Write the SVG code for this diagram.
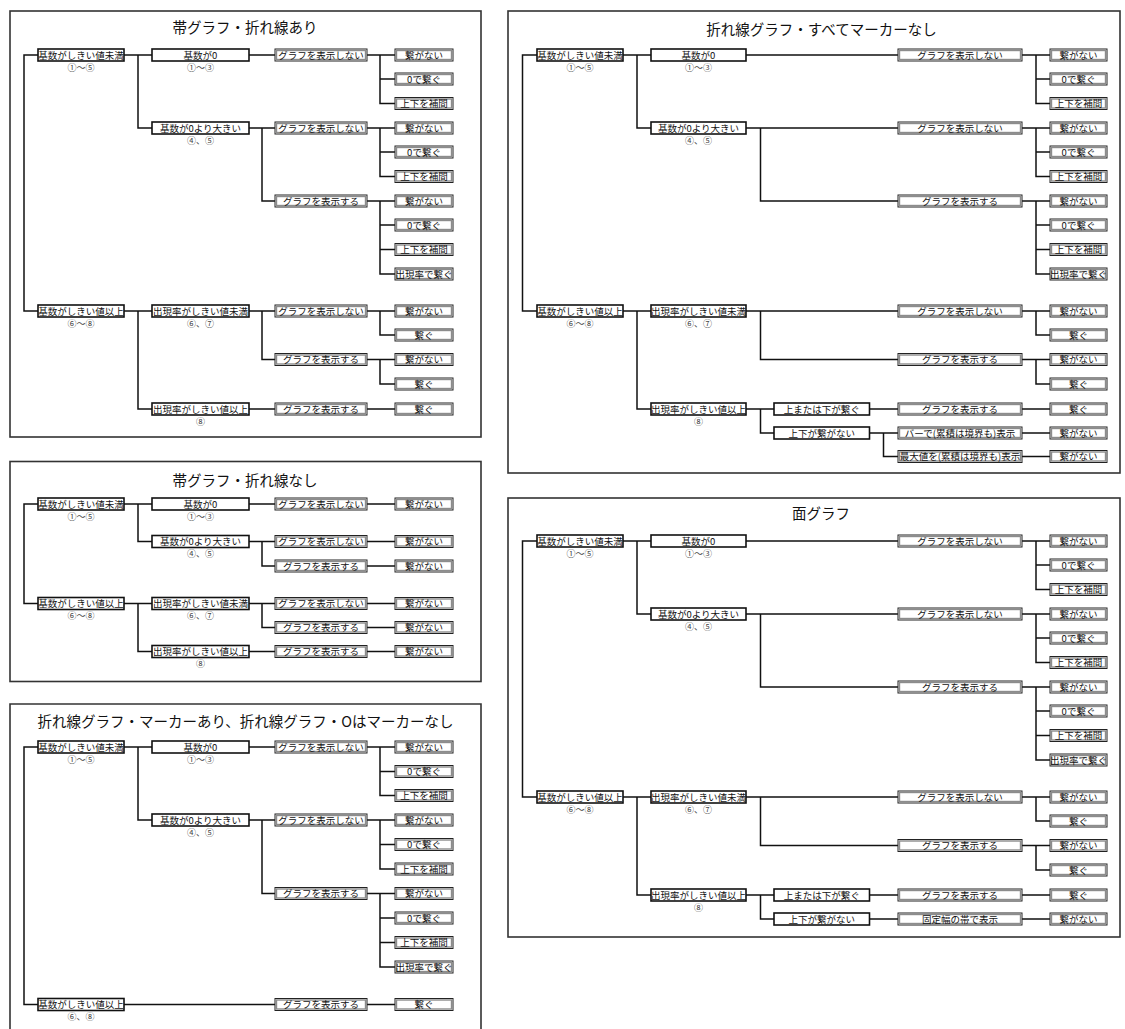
<svg xmlns="http://www.w3.org/2000/svg" xmlns:xlink="http://www.w3.org/1999/xlink" width="1125" height="1029" viewBox="0 0 1125 1029">
<style>
.t{font-family:"Noto Sans CJK JP","Noto Sans CJK SC",sans-serif;font-size:9.5px;fill:#111;text-anchor:middle}
.s{font-size:9px;fill:#444}
.h{font-size:14.5px;fill:#111}
.c{fill:none;stroke:#111;stroke-width:1.5}
.f{fill:none;stroke:#333;stroke-width:1.6}
.w{fill:#fff;stroke:#111;stroke-width:1.6}
.o{fill:#fff;stroke:#222;stroke-width:1}
.i{fill:none;stroke:#8c8c8c;stroke-width:1.4}
</style>
<defs>
<rect id="b1" width="86" height="12" class="w"/>
<rect id="b2" width="97" height="12" class="w"/>
<rect id="b2r" width="95" height="12" class="w"/>
<rect id="bm" width="95.5" height="12" class="w"/>
<g id="b3"><rect width="92" height="12" class="o"/><rect x="1.5" y="1.5" width="89" height="9" class="i"/></g>
<g id="b3w"><rect width="124" height="12" class="o"/><rect x="1.5" y="1.5" width="121" height="9" class="i"/></g>
<g id="b4"><rect width="58" height="12" class="o"/><rect x="1.5" y="1.5" width="55" height="9" class="i"/></g>
<g id="b4r"><rect width="57" height="12" class="o"/><rect x="1.5" y="1.5" width="54" height="9" class="i"/></g>
</defs>
<rect width="1125" height="1029" fill="#fff"/>

<g id="frames">
<rect class="f" x="10" y="11" width="471" height="426"/>
<rect class="f" x="10" y="461.5" width="471" height="220"/>
<path class="f" d="M10 1035 V704 H481 V1035"/>
<rect class="f" x="508" y="11" width="612" height="462"/>
<rect class="f" x="508" y="498" width="612" height="439"/>
</g>
<g id="titles">
<text class="t h" x="245" y="32.5">帯グラフ・折れ線あり</text>
<text class="t h" x="245" y="485.5">帯グラフ・折れ線なし</text>
<text class="t h" x="245.5" y="726.5">折れ線グラフ・マーカーあり、折れ線グラフ・Oはマーカーなし</text>
<text class="t h" x="821.5" y="35">折れ線グラフ・すべてマーカーなし</text>
<text class="t h" x="821" y="519">面グラフ</text>
</g>

<g id="connectors" class="c">
<path d="M38 55 H24 V311 H38 M124 55 H152 M138 55 V128 H152 M249 55 H275 M367 55 H395 M380 55 V103.5 H395 M380 79 H395 M249 128 H275 M262 128 V201 H275 M367 128 H395 M380 128 V176.5 H395 M380 152 H395 M367 201 H395 M380 201 V274 H395 M380 225 H395 M380 249.5 H395 M124 311 H152 M138 311 V409 H152 M249 311 H275 M262 311 V359.5 H275 M367 311 H395 M380 311 V335 H395 M367 359.5 H395 M380 359.5 V384 H395 M249 409 H275 M367 409 H395"/>
<path d="M38 504 H24 V603.5 H38 M124 504 H152 M138 504 V541.5 H152 M249 504 H275 M367 504 H395 M249 541.5 H275 M262 541.5 V566 H275 M367 541.5 H395 M367 566 H395 M124 603.5 H152 M138 603.5 V651.5 H152 M249 603.5 H275 M262 603.5 V627.5 H275 M367 603.5 H395 M367 627.5 H395 M249 651.5 H275 M367 651.5 H395"/>
<path d="M38 747 H24 V1004.5 H38 M124 747 H152 M138 747 V820 H152 M249 747 H275 M367 747 H395 M380 747 V795.5 H395 M380 771.5 H395 M249 820 H275 M262 820 V893.5 H275 M367 820 H395 M380 820 V869 H395 M380 844.5 H395 M367 893.5 H395 M380 893.5 V967 H395 M380 918 H395 M380 942.5 H395 M124 1004.5 H275 M367 1004.5 H395"/>
<path d="M537 55 H522.5 V311 H537 M623 55 H651 M637 55 V128 H651 M746 55 H898 M1022 55 H1050 M1036 55 V103.5 H1050 M1036 79 H1050 M746 128 H898 M760.5 128 V201 H898 M1022 128 H1050 M1036 128 V176.5 H1050 M1036 152 H1050 M1022 201 H1050 M1036 201 V274 H1050 M1036 225 H1050 M1036 249.5 H1050 M623 311 H651 M637 311 V409 H651 M746 311 H898 M760.5 311 V359.5 H898 M1022 311 H1050 M1036 311 V335 H1050 M1022 359.5 H1050 M1036 359.5 V384 H1050 M746 409 H774 M760.5 409 V433 H774 M869.5 409 H898 M1022 409 H1050 M869.5 433 H898 M883.5 433 V456.5 H898 M1022 433 H1050 M1022 456.5 H1050"/>
<path d="M537 541 H522.5 V797 H537 M623 541 H651 M637 541 V614 H651 M746 541 H898 M1022 541 H1050 M1036 541 V589.5 H1050 M1036 565 H1050 M746 614 H898 M760.5 614 V687 H898 M1022 614 H1050 M1036 614 V662.5 H1050 M1036 638 H1050 M1022 687 H1050 M1036 687 V760 H1050 M1036 711 H1050 M1036 735.5 H1050 M623 797 H651 M637 797 V895 H651 M746 797 H898 M760.5 797 V845.5 H898 M1022 797 H1050 M1036 797 V821 H1050 M1022 845.5 H1050 M1036 845.5 V870 H1050 M746 895 H774 M760.5 895 V919 H774 M869.5 895 H898 M1022 895 H1050 M869.5 919 H898 M1022 919 H1050"/>
</g>

<!-- Panel 1 -->
<g id="p1-l1a"><use href="#b1" x="38" y="49"/><text class="t" x="81" y="58.5">基数がしきい値未満</text><text class="t s" x="81" y="70.5">①～⑤</text></g>
<g id="p1-l1b"><use href="#b1" x="38" y="305"/><text class="t" x="81" y="314.5">基数がしきい値以上</text><text class="t s" x="81" y="326.5">⑥～⑧</text></g>
<g id="p1-l2a"><use href="#b2" x="152" y="49"/><text class="t" x="200.5" y="58.5">基数が0</text><text class="t s" x="200.5" y="70.5">①～③</text></g>
<g id="p1-l2b"><use href="#b2" x="152" y="122"/><text class="t" x="200.5" y="131.5">基数が0より大きい</text><text class="t s" x="200.5" y="143.5">④、⑤</text></g>
<g id="p1-l2c"><use href="#b2" x="152" y="305"/><text class="t" x="200.5" y="314.5">出現率がしきい値未満</text><text class="t s" x="200.5" y="326.5">⑥、⑦</text></g>
<g id="p1-l2d"><use href="#b2" x="152" y="403"/><text class="t" x="200.5" y="412.5">出現率がしきい値以上</text><text class="t s" x="200.5" y="424.5">⑧</text></g>
<g id="p1-l3a"><use href="#b3" x="275" y="49"/><text class="t" x="321" y="58.5">グラフを表示しない</text></g>
<g id="p1-l3b"><use href="#b3" x="275" y="122"/><text class="t" x="321" y="131.5">グラフを表示しない</text></g>
<g id="p1-l3c"><use href="#b3" x="275" y="195"/><text class="t" x="321" y="204.5">グラフを表示する</text></g>
<g id="p1-l3d"><use href="#b3" x="275" y="305"/><text class="t" x="321" y="314.5">グラフを表示しない</text></g>
<g id="p1-l3e"><use href="#b3" x="275" y="353.5"/><text class="t" x="321" y="363">グラフを表示する</text></g>
<g id="p1-l3f"><use href="#b3" x="275" y="403"/><text class="t" x="321" y="412.5">グラフを表示する</text></g>
<g id="p1-l4a"><use href="#b4" x="395" y="49"/><text class="t" x="424" y="58.5">繋がない</text></g>
<g id="p1-l4b"><use href="#b4" x="395" y="73"/><text class="t" x="424" y="82.5">0で繋ぐ</text></g>
<g id="p1-l4c"><use href="#b4" x="395" y="97.5"/><text class="t" x="424" y="107">上下を補間</text></g>
<g id="p1-l4d"><use href="#b4" x="395" y="122"/><text class="t" x="424" y="131.5">繋がない</text></g>
<g id="p1-l4e"><use href="#b4" x="395" y="146"/><text class="t" x="424" y="155.5">0で繋ぐ</text></g>
<g id="p1-l4f"><use href="#b4" x="395" y="170.5"/><text class="t" x="424" y="180">上下を補間</text></g>
<g id="p1-l4g"><use href="#b4" x="395" y="195"/><text class="t" x="424" y="204.5">繋がない</text></g>
<g id="p1-l4h"><use href="#b4" x="395" y="219"/><text class="t" x="424" y="228.5">0で繋ぐ</text></g>
<g id="p1-l4i"><use href="#b4" x="395" y="243.5"/><text class="t" x="424" y="253">上下を補間</text></g>
<g id="p1-l4j"><use href="#b4" x="395" y="268"/><text class="t" x="424" y="277.5">出現率で繋ぐ</text></g>
<g id="p1-l4k"><use href="#b4" x="395" y="305"/><text class="t" x="424" y="314.5">繋がない</text></g>
<g id="p1-l4l"><use href="#b4" x="395" y="329"/><text class="t" x="424" y="338.5">繋ぐ</text></g>
<g id="p1-l4m"><use href="#b4" x="395" y="353.5"/><text class="t" x="424" y="363">繋がない</text></g>
<g id="p1-l4n"><use href="#b4" x="395" y="378"/><text class="t" x="424" y="387.5">繋ぐ</text></g>
<g id="p1-l4o"><use href="#b4" x="395" y="403"/><text class="t" x="424" y="412.5">繋ぐ</text></g>

<!-- Panel 2 -->
<g id="p2-l1a"><use href="#b1" x="38" y="498"/><text class="t" x="81" y="507.5">基数がしきい値未満</text><text class="t s" x="81" y="519.5">①～⑤</text></g>
<g id="p2-l1b"><use href="#b1" x="38" y="597.5"/><text class="t" x="81" y="607">基数がしきい値以上</text><text class="t s" x="81" y="619">⑥～⑧</text></g>
<g id="p2-l2a"><use href="#b2" x="152" y="498"/><text class="t" x="200.5" y="507.5">基数が0</text><text class="t s" x="200.5" y="519.5">①～③</text></g>
<g id="p2-l2b"><use href="#b2" x="152" y="535.5"/><text class="t" x="200.5" y="545">基数が0より大きい</text><text class="t s" x="200.5" y="557">④、⑤</text></g>
<g id="p2-l2c"><use href="#b2" x="152" y="597.5"/><text class="t" x="200.5" y="607">出現率がしきい値未満</text><text class="t s" x="200.5" y="619">⑥、⑦</text></g>
<g id="p2-l2d"><use href="#b2" x="152" y="645.5"/><text class="t" x="200.5" y="655">出現率がしきい値以上</text><text class="t s" x="200.5" y="667">⑧</text></g>
<g id="p2-l3a"><use href="#b3" x="275" y="498"/><text class="t" x="321" y="507.5">グラフを表示しない</text></g>
<g id="p2-l3b"><use href="#b3" x="275" y="535.5"/><text class="t" x="321" y="545">グラフを表示しない</text></g>
<g id="p2-l3c"><use href="#b3" x="275" y="560"/><text class="t" x="321" y="569.5">グラフを表示する</text></g>
<g id="p2-l3d"><use href="#b3" x="275" y="597.5"/><text class="t" x="321" y="607">グラフを表示しない</text></g>
<g id="p2-l3e"><use href="#b3" x="275" y="621.5"/><text class="t" x="321" y="631">グラフを表示する</text></g>
<g id="p2-l3f"><use href="#b3" x="275" y="645.5"/><text class="t" x="321" y="655">グラフを表示する</text></g>
<g id="p2-l4a"><use href="#b4" x="395" y="498"/><text class="t" x="424" y="507.5">繋がない</text></g>
<g id="p2-l4b"><use href="#b4" x="395" y="535.5"/><text class="t" x="424" y="545">繋がない</text></g>
<g id="p2-l4c"><use href="#b4" x="395" y="560"/><text class="t" x="424" y="569.5">繋がない</text></g>
<g id="p2-l4d"><use href="#b4" x="395" y="597.5"/><text class="t" x="424" y="607">繋がない</text></g>
<g id="p2-l4e"><use href="#b4" x="395" y="621.5"/><text class="t" x="424" y="631">繋がない</text></g>
<g id="p2-l4f"><use href="#b4" x="395" y="645.5"/><text class="t" x="424" y="655">繋がない</text></g>

<!-- Panel 3 -->
<g id="p3-l1a"><use href="#b1" x="38" y="741"/><text class="t" x="81" y="750.5">基数がしきい値未満</text><text class="t s" x="81" y="762.5">①～⑤</text></g>
<g id="p3-l1b"><use href="#b1" x="38" y="998.5"/><text class="t" x="81" y="1008">基数がしきい値以上</text><text class="t s" x="81" y="1020">⑥、⑧</text></g>
<g id="p3-l2a"><use href="#b2" x="152" y="741"/><text class="t" x="200.5" y="750.5">基数が0</text><text class="t s" x="200.5" y="762.5">①～③</text></g>
<g id="p3-l2b"><use href="#b2" x="152" y="814"/><text class="t" x="200.5" y="823.5">基数が0より大きい</text><text class="t s" x="200.5" y="835.5">④、⑤</text></g>
<g id="p3-l3a"><use href="#b3" x="275" y="741"/><text class="t" x="321" y="750.5">グラフを表示しない</text></g>
<g id="p3-l3b"><use href="#b3" x="275" y="814"/><text class="t" x="321" y="823.5">グラフを表示しない</text></g>
<g id="p3-l3c"><use href="#b3" x="275" y="887.5"/><text class="t" x="321" y="897">グラフを表示する</text></g>
<g id="p3-l3d"><use href="#b3" x="275" y="998.5"/><text class="t" x="321" y="1008">グラフを表示する</text></g>
<g id="p3-l4a"><use href="#b4" x="395" y="741"/><text class="t" x="424" y="750.5">繋がない</text></g>
<g id="p3-l4b"><use href="#b4" x="395" y="765.5"/><text class="t" x="424" y="775">0で繋ぐ</text></g>
<g id="p3-l4c"><use href="#b4" x="395" y="789.5"/><text class="t" x="424" y="799">上下を補間</text></g>
<g id="p3-l4d"><use href="#b4" x="395" y="814"/><text class="t" x="424" y="823.5">繋がない</text></g>
<g id="p3-l4e"><use href="#b4" x="395" y="838.5"/><text class="t" x="424" y="848">0で繋ぐ</text></g>
<g id="p3-l4f"><use href="#b4" x="395" y="863"/><text class="t" x="424" y="872.5">上下を補間</text></g>
<g id="p3-l4g"><use href="#b4" x="395" y="887.5"/><text class="t" x="424" y="897">繋がない</text></g>
<g id="p3-l4h"><use href="#b4" x="395" y="912"/><text class="t" x="424" y="921.5">0で繋ぐ</text></g>
<g id="p3-l4i"><use href="#b4" x="395" y="936.5"/><text class="t" x="424" y="946">上下を補間</text></g>
<g id="p3-l4j"><use href="#b4" x="395" y="961"/><text class="t" x="424" y="970.5">出現率で繋ぐ</text></g>
<g id="p3-l4k"><use href="#b4" x="395" y="998.5"/><text class="t" x="424" y="1008">繋ぐ</text></g>

<!-- Panel 4 -->
<g id="p4-l1a"><use href="#b1" x="537" y="49"/><text class="t" x="580" y="58.5">基数がしきい値未満</text><text class="t s" x="580" y="70.5">①～⑤</text></g>
<g id="p4-l1b"><use href="#b1" x="537" y="305"/><text class="t" x="580" y="314.5">基数がしきい値以上</text><text class="t s" x="580" y="326.5">⑥～⑧</text></g>
<g id="p4-l2a"><use href="#b2r" x="651" y="49"/><text class="t" x="698.5" y="58.5">基数が0</text><text class="t s" x="698.5" y="70.5">①～③</text></g>
<g id="p4-l2b"><use href="#b2r" x="651" y="122"/><text class="t" x="698.5" y="131.5">基数が0より大きい</text><text class="t s" x="698.5" y="143.5">④、⑤</text></g>
<g id="p4-l2c"><use href="#b2r" x="651" y="305"/><text class="t" x="698.5" y="314.5">出現率がしきい値未満</text><text class="t s" x="698.5" y="326.5">⑥、⑦</text></g>
<g id="p4-l2d"><use href="#b2r" x="651" y="403"/><text class="t" x="698.5" y="412.5">出現率がしきい値以上</text><text class="t s" x="698.5" y="424.5">⑧</text></g>
<g id="p4-ma"><use href="#bm" x="774" y="403"/><text class="t" x="821.75" y="412.5">上または下が繋ぐ</text></g>
<g id="p4-mb"><use href="#bm" x="774" y="427"/><text class="t" x="821.75" y="436.5">上下が繋がない</text></g>
<g id="p4-l3a"><use href="#b3w" x="898" y="49"/><text class="t" x="960" y="58.5">グラフを表示しない</text></g>
<g id="p4-l3b"><use href="#b3w" x="898" y="122"/><text class="t" x="960" y="131.5">グラフを表示しない</text></g>
<g id="p4-l3c"><use href="#b3w" x="898" y="195"/><text class="t" x="960" y="204.5">グラフを表示する</text></g>
<g id="p4-l3d"><use href="#b3w" x="898" y="305"/><text class="t" x="960" y="314.5">グラフを表示しない</text></g>
<g id="p4-l3e"><use href="#b3w" x="898" y="353.5"/><text class="t" x="960" y="363">グラフを表示する</text></g>
<g id="p4-l3f"><use href="#b3w" x="898" y="403"/><text class="t" x="960" y="412.5">グラフを表示する</text></g>
<g id="p4-l3g"><use href="#b3w" x="898" y="427"/><text class="t" x="960" y="436.5">バーで(累積は境界も)表示</text></g>
<g id="p4-l3h"><use href="#b3w" x="898" y="450.5"/><text class="t" x="960" y="460">最大値を(累積は境界も)表示</text></g>
<g id="p4-l4a"><use href="#b4r" x="1050" y="49"/><text class="t" x="1078.5" y="58.5">繋がない</text></g>
<g id="p4-l4b"><use href="#b4r" x="1050" y="73"/><text class="t" x="1078.5" y="82.5">0で繋ぐ</text></g>
<g id="p4-l4c"><use href="#b4r" x="1050" y="97.5"/><text class="t" x="1078.5" y="107">上下を補間</text></g>
<g id="p4-l4d"><use href="#b4r" x="1050" y="122"/><text class="t" x="1078.5" y="131.5">繋がない</text></g>
<g id="p4-l4e"><use href="#b4r" x="1050" y="146"/><text class="t" x="1078.5" y="155.5">0で繋ぐ</text></g>
<g id="p4-l4f"><use href="#b4r" x="1050" y="170.5"/><text class="t" x="1078.5" y="180">上下を補間</text></g>
<g id="p4-l4g"><use href="#b4r" x="1050" y="195"/><text class="t" x="1078.5" y="204.5">繋がない</text></g>
<g id="p4-l4h"><use href="#b4r" x="1050" y="219"/><text class="t" x="1078.5" y="228.5">0で繋ぐ</text></g>
<g id="p4-l4i"><use href="#b4r" x="1050" y="243.5"/><text class="t" x="1078.5" y="253">上下を補間</text></g>
<g id="p4-l4j"><use href="#b4r" x="1050" y="268"/><text class="t" x="1078.5" y="277.5">出現率で繋ぐ</text></g>
<g id="p4-l4k"><use href="#b4r" x="1050" y="305"/><text class="t" x="1078.5" y="314.5">繋がない</text></g>
<g id="p4-l4l"><use href="#b4r" x="1050" y="329"/><text class="t" x="1078.5" y="338.5">繋ぐ</text></g>
<g id="p4-l4m"><use href="#b4r" x="1050" y="353.5"/><text class="t" x="1078.5" y="363">繋がない</text></g>
<g id="p4-l4n"><use href="#b4r" x="1050" y="378"/><text class="t" x="1078.5" y="387.5">繋ぐ</text></g>
<g id="p4-l4o"><use href="#b4r" x="1050" y="403"/><text class="t" x="1078.5" y="412.5">繋ぐ</text></g>
<g id="p4-l4p"><use href="#b4r" x="1050" y="427"/><text class="t" x="1078.5" y="436.5">繋がない</text></g>
<g id="p4-l4q"><use href="#b4r" x="1050" y="450.5"/><text class="t" x="1078.5" y="460">繋がない</text></g>

<!-- Panel 5 -->
<g id="p5-l1a"><use href="#b1" x="537" y="535"/><text class="t" x="580" y="544.5">基数がしきい値未満</text><text class="t s" x="580" y="556.5">①～⑤</text></g>
<g id="p5-l1b"><use href="#b1" x="537" y="791"/><text class="t" x="580" y="800.5">基数がしきい値以上</text><text class="t s" x="580" y="812.5">⑥～⑧</text></g>
<g id="p5-l2a"><use href="#b2r" x="651" y="535"/><text class="t" x="698.5" y="544.5">基数が0</text><text class="t s" x="698.5" y="556.5">①～③</text></g>
<g id="p5-l2b"><use href="#b2r" x="651" y="608"/><text class="t" x="698.5" y="617.5">基数が0より大きい</text><text class="t s" x="698.5" y="629.5">④、⑤</text></g>
<g id="p5-l2c"><use href="#b2r" x="651" y="791"/><text class="t" x="698.5" y="800.5">出現率がしきい値未満</text><text class="t s" x="698.5" y="812.5">⑥、⑦</text></g>
<g id="p5-l2d"><use href="#b2r" x="651" y="889"/><text class="t" x="698.5" y="898.5">出現率がしきい値以上</text><text class="t s" x="698.5" y="910.5">⑧</text></g>
<g id="p5-ma"><use href="#bm" x="774" y="889"/><text class="t" x="821.75" y="898.5">上または下が繋ぐ</text></g>
<g id="p5-mb"><use href="#bm" x="774" y="913"/><text class="t" x="821.75" y="922.5">上下が繋がない</text></g>
<g id="p5-l3a"><use href="#b3w" x="898" y="535"/><text class="t" x="960" y="544.5">グラフを表示しない</text></g>
<g id="p5-l3b"><use href="#b3w" x="898" y="608"/><text class="t" x="960" y="617.5">グラフを表示しない</text></g>
<g id="p5-l3c"><use href="#b3w" x="898" y="681"/><text class="t" x="960" y="690.5">グラフを表示する</text></g>
<g id="p5-l3d"><use href="#b3w" x="898" y="791"/><text class="t" x="960" y="800.5">グラフを表示しない</text></g>
<g id="p5-l3e"><use href="#b3w" x="898" y="839.5"/><text class="t" x="960" y="849">グラフを表示する</text></g>
<g id="p5-l3f"><use href="#b3w" x="898" y="889"/><text class="t" x="960" y="898.5">グラフを表示する</text></g>
<g id="p5-l3g"><use href="#b3w" x="898" y="913"/><text class="t" x="960" y="922.5">固定幅の帯で表示</text></g>
<g id="p5-l4a"><use href="#b4r" x="1050" y="535"/><text class="t" x="1078.5" y="544.5">繋がない</text></g>
<g id="p5-l4b"><use href="#b4r" x="1050" y="559"/><text class="t" x="1078.5" y="568.5">0で繋ぐ</text></g>
<g id="p5-l4c"><use href="#b4r" x="1050" y="583.5"/><text class="t" x="1078.5" y="593">上下を補間</text></g>
<g id="p5-l4d"><use href="#b4r" x="1050" y="608"/><text class="t" x="1078.5" y="617.5">繋がない</text></g>
<g id="p5-l4e"><use href="#b4r" x="1050" y="632"/><text class="t" x="1078.5" y="641.5">0で繋ぐ</text></g>
<g id="p5-l4f"><use href="#b4r" x="1050" y="656.5"/><text class="t" x="1078.5" y="666">上下を補間</text></g>
<g id="p5-l4g"><use href="#b4r" x="1050" y="681"/><text class="t" x="1078.5" y="690.5">繋がない</text></g>
<g id="p5-l4h"><use href="#b4r" x="1050" y="705"/><text class="t" x="1078.5" y="714.5">0で繋ぐ</text></g>
<g id="p5-l4i"><use href="#b4r" x="1050" y="729.5"/><text class="t" x="1078.5" y="739">上下を補間</text></g>
<g id="p5-l4j"><use href="#b4r" x="1050" y="754"/><text class="t" x="1078.5" y="763.5">出現率で繋ぐ</text></g>
<g id="p5-l4k"><use href="#b4r" x="1050" y="791"/><text class="t" x="1078.5" y="800.5">繋がない</text></g>
<g id="p5-l4l"><use href="#b4r" x="1050" y="815"/><text class="t" x="1078.5" y="824.5">繋ぐ</text></g>
<g id="p5-l4m"><use href="#b4r" x="1050" y="839.5"/><text class="t" x="1078.5" y="849">繋がない</text></g>
<g id="p5-l4n"><use href="#b4r" x="1050" y="864"/><text class="t" x="1078.5" y="873.5">繋ぐ</text></g>
<g id="p5-l4o"><use href="#b4r" x="1050" y="889"/><text class="t" x="1078.5" y="898.5">繋ぐ</text></g>
<g id="p5-l4p"><use href="#b4r" x="1050" y="913"/><text class="t" x="1078.5" y="922.5">繋がない</text></g>
</svg>
